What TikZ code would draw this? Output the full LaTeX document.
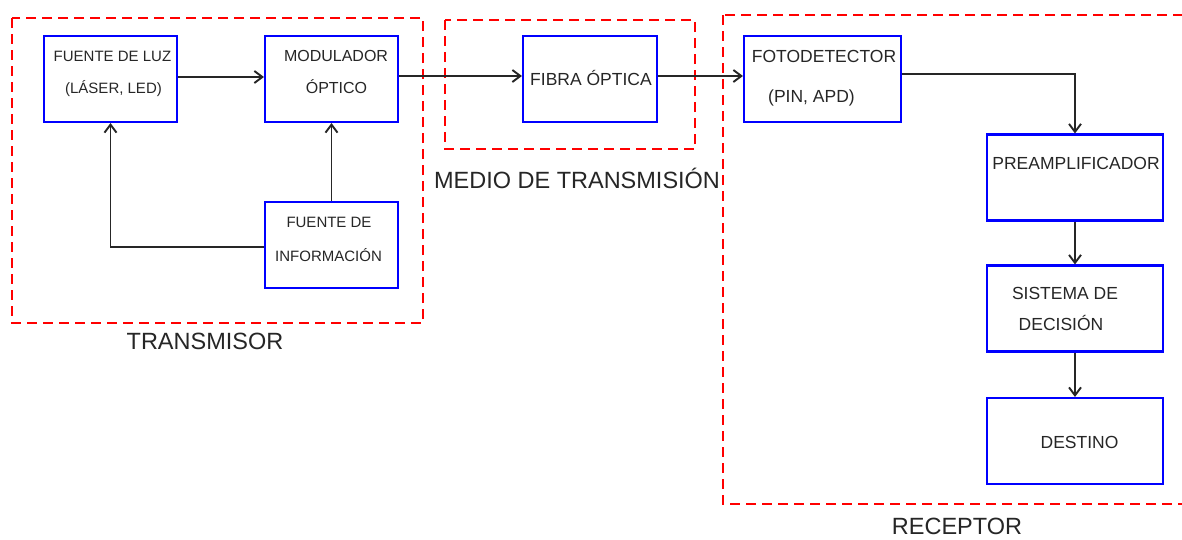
\documentclass[tikz,border=0pt]{standalone}
\usepackage{fontspec}
\setmainfont{Liberation Sans}
\usetikzlibrary{arrows.meta}

\begin{document}
\begin{tikzpicture}[
    x=1pt,
    y=-1pt,
    caja/.style={draw=blue, line width=2.1pt, minimum height=86pt, inner sep=0pt},
    grupo/.style={draw=red, line width=2pt, dash pattern=on 10pt off 6pt},
    flecha/.style={draw=black!85, line width=1.9pt, -{Straight Barb[length=8pt,width=12pt]}},
    grande/.style={font=\fontsize{17.5}{20}\selectfont},
    chico/.style={font=\fontsize{15}{18}\selectfont},
    medio/.style={font=\fontsize{16}{19}\selectfont},
    texto/.style={anchor=base, text=black!85, inner sep=0pt},
    titulo/.style={anchor=base, text=black!85, inner sep=0pt, font=\fontsize{23.5}{28}\selectfont}
]
\fill[white] (0,0) rectangle (1182,539);
\useasboundingbox (0,0) rectangle (1182,539);

% Recuadros punteados: transmisor / medio / receptor
\draw[grupo] (12,18) rectangle (423,323);
\draw[grupo] (445,20) rectangle (695,149);
\draw[grupo] (723,15) rectangle (1200,504);

% Bloques: nombre / centro x / centro y / ancho
\foreach \nombre/\cx/\cy/\ancho in {
    luz/110.5/79/133,
    modulador/331.5/79/133,
    info/331.5/245/133,
    fibra/590/79/134,
    foto/822.5/79/157,
    preamp/1075/177.5/176,
    decision/1075/308.5/176,
    destino/1075/441/176}
{
    \node[caja, minimum width=\ancho] (\nombre) at (\cx,\cy) {};
}

% Textos de los bloques (x / línea base / tamaño / texto)
\foreach \cx/\cy/\tam/\txt [count=\i] in {
    112.5/61.5/chico/FUENTE DE LUZ,
    113.5/93.5/chico/{(LÁSER, LED)},
    336/61.7/medio/MODULADOR,
    336.5/93.7/medio/ÓPTICO,
    329/227.5/chico/FUENTE DE,
    328.5/261.5/chico/INFORMACIÓN,
    591/85.3/grande/FIBRA ÓPTICA,
    824/62.8/grande/FOTODETECTOR,
    811.5/102.3/grande/{(PIN, APD)},
    1076/169.3/grande/PREAMPLIFICADOR,
    1065/299.8/grande/SISTEMA DE,
    1061/330.8/grande/DECISIÓN,
    1079.5/448.3/grande/DESTINO}
{
    \node[texto, \tam] (t\i) at (\cx,\cy) {\txt};
}

% Nombres de las etapas
\node[titulo] (transmisor) at (205,349.5) {TRANSMISOR};
\node[titulo] (medio) at (577,188.5) {MEDIO DE TRANSMISIÓN};
\node[titulo] (receptor) at (957,534.5) {RECEPTOR};

% Conexiones
\draw[flecha] ([yshift=2pt]luz.east) -- ([yshift=2pt]modulador.west);
\draw[flecha] ([yshift=3pt]modulador.east) -- ([yshift=3pt]fibra.west);
\draw[flecha] ([yshift=3pt]fibra.east) -- ([yshift=3pt]foto.west);
\draw[flecha] (info) -- (modulador);
\draw[flecha] ([yshift=-2pt]info.west) -| (luz.south);
\draw[flecha] ([yshift=5pt]foto.east) -| (preamp.north);
\draw[flecha] (preamp) -- (decision);
\draw[flecha] (decision) -- (destino);

\end{tikzpicture}
\end{document}
